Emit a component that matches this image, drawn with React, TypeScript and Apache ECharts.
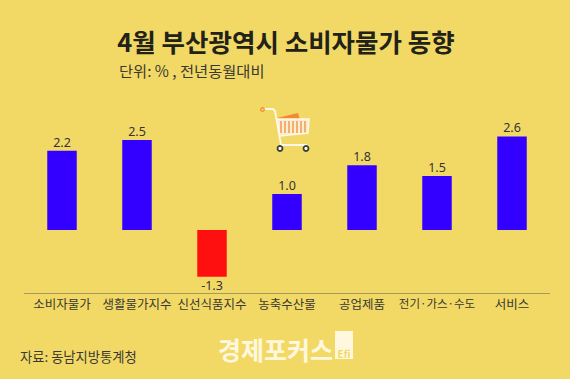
import React, { useEffect, useRef } from "react";
import * as echarts from "echarts";

const categories = ["소비자물가", "생활물가지수", "신선식품지수", "농축수산물", "공업제품", "전기·가스·수도", "서비스"];
const values = [2.2, 2.5, -1.3, 1.0, 1.8, 1.5, 2.6];
const titleText = "4월 부산광역시 소비자물가 동향";
const unitText = "단위: % , 전년동월대비";
const sourceText = "자료: 동남지방통계청";
const logoText = "경제포커스";

const FONT = "'Noto Sans CJK KR', sans-serif";
const BG = "#f2d966";

export default function App() {
  const ref = useRef<HTMLDivElement>(null);
  useEffect(() => {
    const chart = echarts.init(ref.current!, undefined, { renderer: "svg" });
    chart.setOption({
      animation: false,
      backgroundColor: BG,
      grid: { left: 24.5, right: 20.5, top: 122, height: 171 },
      xAxis: {
        type: "category",
        data: categories,
        position: "bottom",
        axisLine: { onZero: false, lineStyle: { color: "#a59a5e", width: 1 } },
        axisTick: { show: false },
        axisLabel: {
          color: "#3a3a30",
          fontFamily: FONT,
          fontSize: 12.5,
          margin: 4,
          interval: 0,
          formatter: (v: string) => (v.includes("·") ? `{s|${v}}` : v),
          rich: { s: { fontFamily: FONT, fontSize: 11.5, color: "#3a3a30" } },
        },
      },
      yAxis: { type: "value", min: -1.75, max: 3, show: false, splitLine: { show: false } },
      series: [
        {
          type: "bar",
          barWidth: 29.5,
          data: values.map((v) => ({
            value: v,
            itemStyle: { color: v < 0 ? "#ff1010" : "#3300ff" },
          })),
          label: {
            show: true,
            position: "outside",
            distance: 2,
            color: "#333",
            fontFamily: "'Noto Sans', sans-serif",
            fontSize: 12.5,
            formatter: (p: any) => p.value.toFixed(1),
          },
        },
      ],
      graphic: [
        { type: "text", x: 286, y: 40, style: { text: titleText, fill: "#222218", font: `bold 25.5px ${FONT}`, textAlign: "center", textVerticalAlign: "middle" } },
        { type: "text", x: 119, y: 70, style: { text: unitText, fill: "#3a3a30", font: `15.3px ${FONT}`, textAlign: "left", textVerticalAlign: "middle" } },
        { type: "text", x: 20, y: 356, style: { text: sourceText, fill: "#3a3a30", font: `13.3px ${FONT}`, textAlign: "left", textVerticalAlign: "middle" } },
        { type: "text", x: 218, y: 349, style: { text: logoText, fill: "#fff8df", font: `bold 25px ${FONT}`, textAlign: "left", textVerticalAlign: "middle", letterSpacing: -1 } },
        { type: "rect", shape: { x: 335, y: 331, width: 18, height: 28 }, style: { fill: "#fff8df" } },
        { type: "text", x: 344, y: 353, style: { text: "Efi", fill: BG, font: `bold 10px ${FONT}`, textAlign: "center", textVerticalAlign: "middle" } },
        // shopping cart
        { type: "polygon", shape: { points: [[277, 118], [298, 113], [300, 120], [280, 120]] }, style: { fill: "#f28a30" } },
        { type: "polygon", shape: { points: [[277, 119], [309, 119], [308, 133], [280, 136]] }, style: { fill: "#fbeed0" } },
        ...[281, 285, 289, 293, 297, 301, 305].map((x) => ({ type: "line", shape: { x1: x, y1: 121, x2: x, y2: 133 }, style: { stroke: "#f09a50", lineWidth: 1.5 } })),
        { type: "polyline", shape: { points: [[264, 109], [273, 109], [275, 111], [281, 145], [307, 145]] }, style: { stroke: "#fff8e6", lineWidth: 1.8, fill: "none" } },
        { type: "polygon", shape: { points: [[277, 119], [309, 119], [308, 133], [280, 136]] }, style: { stroke: "#fff8e6", lineWidth: 1.4, fill: "none" } },
        { type: "circle", shape: { cx: 262.5, cy: 109.5, r: 1.8 }, style: { fill: "none", stroke: "#f28a30", lineWidth: 1.2 } },
        { type: "circle", shape: { cx: 280, cy: 148.5, r: 2.5 }, style: { fill: "#fff8e6", stroke: "#33403f", lineWidth: 1.8 } },
        { type: "circle", shape: { cx: 306, cy: 148.5, r: 2.5 }, style: { fill: "#fff8e6", stroke: "#33403f", lineWidth: 1.8 } },
      ],
    });
    return () => chart.dispose();
  }, []);
  return <div ref={ref} style={{ width: 570, height: 379, position: "fixed", left: 0, top: 0 }} />;
}
